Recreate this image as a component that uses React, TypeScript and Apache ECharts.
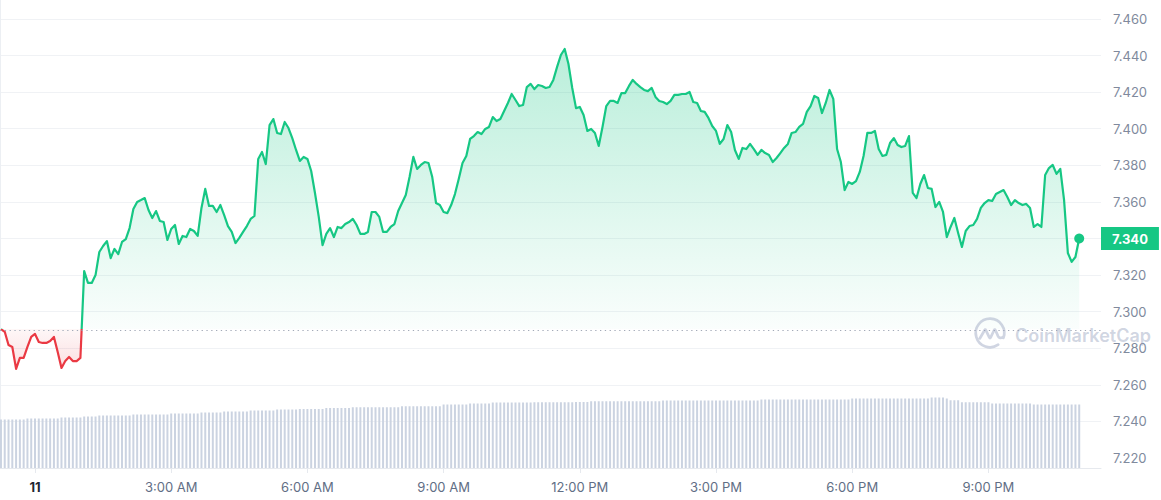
import React, { useEffect, useRef } from 'react';
import * as echarts from 'echarts';

// ---- data ----
const startMinute = -45; // 23:15 of the previous day, minutes from midnight
const stepMinutes = 5;
const openPrice = 7.2905;

const priceValues = [
  7.2905, 7.2890, 7.2818, 7.2807, 7.2687, 7.2747, 7.2747, 7.2807, 7.2862, 7.2878,
  7.2834, 7.2829, 7.2829, 7.2840, 7.2862, 7.2780, 7.2692, 7.2730, 7.2752, 7.2730,
  7.2730, 7.2747, 7.3222, 7.3157, 7.3157, 7.3200, 7.3326, 7.3359, 7.3386, 7.3293,
  7.3343, 7.3315, 7.3381, 7.3397, 7.3457, 7.3561, 7.3600, 7.3610, 7.3621, 7.3556,
  7.3512, 7.3550, 7.3496, 7.3490, 7.3392, 7.3452, 7.3474, 7.3370, 7.3414, 7.3408,
  7.3452, 7.3441, 7.3414, 7.3567, 7.3671, 7.3578, 7.3578, 7.3545, 7.3583, 7.3528,
  7.3468, 7.3436, 7.3375, 7.3403, 7.3436, 7.3468, 7.3507, 7.3523, 7.3835, 7.3873,
  7.3807, 7.4020, 7.4053, 7.3977, 7.3971, 7.4037, 7.4004, 7.3949, 7.3884, 7.3824,
  7.3846, 7.3835, 7.3769, 7.3649, 7.3518, 7.3364, 7.3425, 7.3457, 7.3408, 7.3463,
  7.3457, 7.3479, 7.3490, 7.3507, 7.3474, 7.3425, 7.3425, 7.3436, 7.3545, 7.3545,
  7.3518, 7.3436, 7.3436, 7.3463, 7.3479, 7.3550, 7.3594, 7.3638, 7.3736, 7.3846,
  7.3780, 7.3802, 7.3818, 7.3813, 7.3736, 7.3594, 7.3583, 7.3545, 7.3539, 7.3583,
  7.3643, 7.3725, 7.3813, 7.3851, 7.3944, 7.3960, 7.3982, 7.3971, 7.3999, 7.4010,
  7.4064, 7.4042, 7.4053, 7.4097, 7.4141, 7.4190, 7.4157, 7.4124, 7.4130, 7.4228,
  7.4245, 7.4217, 7.4239, 7.4234, 7.4223, 7.4228, 7.4267, 7.4338, 7.4403, 7.4436,
  7.4354, 7.4223, 7.4113, 7.4119, 7.4075, 7.3988, 7.3999, 7.3977, 7.3906, 7.4010,
  7.4124, 7.4152, 7.4152, 7.4141, 7.4195, 7.4195, 7.4234, 7.4267, 7.4245, 7.4228,
  7.4212, 7.4206, 7.4223, 7.4174, 7.4152, 7.4146, 7.4135, 7.4152, 7.4185, 7.4185,
  7.4190, 7.4190, 7.4201, 7.4146, 7.4141, 7.4097, 7.4092, 7.4059, 7.4015, 7.3988,
  7.3917, 7.3944, 7.4020, 7.3982, 7.3884, 7.3835, 7.3895, 7.3889, 7.3917, 7.3889,
  7.3857, 7.3884, 7.3867, 7.3857, 7.3818, 7.3840, 7.3867, 7.3895, 7.3917, 7.3977,
  7.3982, 7.4010, 7.4026, 7.4092, 7.4124, 7.4179, 7.4168, 7.4086, 7.4141, 7.4212,
  7.4163, 7.3889, 7.3818, 7.3665, 7.3709, 7.3698, 7.3714, 7.3764, 7.3851, 7.3977,
  7.3977, 7.3988, 7.3889, 7.3851, 7.3857, 7.3922, 7.3949, 7.3911, 7.3900, 7.3906,
  7.3960, 7.3649, 7.3621, 7.3698, 7.3747, 7.3676, 7.3671, 7.3572, 7.3600, 7.3545,
  7.3408, 7.3463, 7.3512, 7.3430, 7.3354, 7.3441, 7.3468, 7.3474, 7.3507, 7.3567,
  7.3594, 7.3610, 7.3605, 7.3643, 7.3654, 7.3665, 7.3627, 7.3583, 7.3610, 7.3594,
  7.3583, 7.3589, 7.3567, 7.3463, 7.3479, 7.3463, 7.3747, 7.3785, 7.3802, 7.3753,
  7.3780, 7.3610, 7.3321, 7.3272, 7.3299, 7.3400,
];

// volume (M), one bar per price point
const volumeValues = [
  194, 194, 194, 194, 194, 194, 194, 198, 198, 198,
  198, 198, 198, 198, 198, 198, 202, 202, 202, 202,
  202, 202, 206, 206, 206, 206, 210, 210, 210, 210,
  210, 210, 210, 210, 210, 214, 214, 214, 214, 214,
  214, 214, 214, 214, 214, 218, 218, 218, 218, 218,
  218, 218, 218, 222, 222, 222, 222, 222, 222, 226,
  226, 226, 226, 226, 226, 226, 230, 230, 230, 230,
  230, 230, 230, 234, 234, 234, 234, 234, 234, 236,
  236, 236, 236, 236, 236, 236, 240, 240, 240, 240,
  240, 240, 240, 243, 243, 243, 243, 243, 243, 243,
  243, 243, 243, 243, 243, 243, 247, 247, 247, 247,
  247, 247, 247, 247, 247, 247, 247, 254, 254, 254,
  254, 254, 254, 254, 258, 258, 258, 258, 258, 258,
  262, 262, 262, 262, 262, 262, 262, 262, 262, 262,
  262, 263, 263, 263, 263, 263, 263, 263, 263, 263,
  263, 263, 264, 264, 264, 264, 267, 267, 267, 267,
  267, 267, 267, 267, 267, 267, 267, 267, 267, 267,
  267, 267, 267, 267, 267, 270, 270, 270, 270, 270,
  270, 270, 270, 270, 270, 270, 270, 270, 270, 270,
  270, 270, 270, 270, 270, 270, 270, 270, 270, 270,
  270, 274, 274, 274, 274, 274, 274, 274, 274, 274,
  274, 274, 274, 274, 274, 274, 274, 274, 274, 274,
  274, 274, 274, 274, 274, 278, 278, 278, 278, 278,
  278, 278, 278, 278, 278, 278, 278, 278, 278, 278,
  278, 278, 278, 278, 278, 278, 282, 282, 282, 282,
  278, 271, 271, 271, 263, 263, 263, 263, 263, 263,
  263, 263, 258, 258, 258, 258, 258, 258, 258, 258,
  258, 258, 258, 254, 254, 254, 254, 254, 254, 254,
  254, 254, 254, 254, 254, 254,
];

const xTickMinutes = [0, 180, 360, 540, 720, 900, 1080, 1260];
const xTickLabels = ['11', '3:00 AM', '6:00 AM', '9:00 AM', '12:00 PM', '3:00 PM', '6:00 PM', '9:00 PM'];

// ---- styling / layout ----
const GREEN = '#16c784';
const RED = '#ea3943';
const X_MIN = -46.26;
const X_MAX = 1408.8;
const FONT = 'Inter, "Noto Sans", sans-serif';

const LOGO_PATH =
  'M74.1,84.4 A42,42 0 1 1 89.5,64.4 M20,66 L34,42 Q36,38 38,42 L48,63 Q50,67 52,63 L62,42 Q64,38 66,42 L74,60 Q78,68 88,62';

echarts.graphic.registerShape('cmcLogo', echarts.graphic.extendPath(LOGO_PATH, {}));

export default function App() {
  const ref = useRef<HTMLDivElement>(null);

  useEffect(() => {
    if (!ref.current) return;
    const chart = echarts.init(ref.current, undefined, { renderer: 'svg' });

    const pricePoints = priceValues.map((v, i) => [startMinute + i * stepMinutes, v]);
    const volumePoints = volumeValues.map((v, i) => [startMinute + i * stepMinutes, v]);
    const lastIdx = priceValues.length - 1;
    const last = priceValues[lastIdx];
    const maxV = Math.max(...priceValues);
    const minV = Math.min(...priceValues);
    const frac = (maxV - openPrice) / (maxV - minV);

    const option: any = {
      animation: false,
      textStyle: { fontFamily: FONT },
      grid: [
        { left: 0, right: 60, top: 19, bottom: 42 },
        { left: 0, right: 60, top: 380, bottom: 32 },
        { left: 0, right: 60, top: 0, bottom: 32 },
      ],
      xAxis: [
        { gridIndex: 0, type: 'value', min: X_MIN, max: X_MAX, show: false },
        {
          gridIndex: 1,
          type: 'value',
          min: X_MIN,
          max: X_MAX,
          axisLine: { show: true, lineStyle: { color: '#e6e9ee', width: 1 } },
          axisTick: { show: true, customValues: xTickMinutes, length: 5, lineStyle: { color: '#e6e9ee' } },
          splitLine: { show: false },
          axisLabel: {
            customValues: xTickMinutes,
            margin: 12,
            fontSize: 13,
            color: '#616e85',
            fontFamily: FONT,
            formatter: (v: number) => {
              const i = xTickMinutes.indexOf(Math.round(v));
              if (i < 0) return '';
              return i === 0 ? '{d|' + xTickLabels[i] + '}' : xTickLabels[i];
            },
            rich: { d: { fontWeight: 'bold', color: '#222531', fontSize: 13, fontFamily: FONT } },
          },
        },
        { gridIndex: 2, type: 'value', min: 0, max: 1, show: false },
      ],
      yAxis: [
        {
          gridIndex: 0,
          type: 'value',
          position: 'right',
          min: 7.22,
          max: 7.46,
          interval: 0.02,
          axisLine: { show: false },
          axisTick: { show: false },
          splitLine: { show: true, showMinLine: false, lineStyle: { color: '#f0f2f5', width: 1 } },
          axisLabel: {
            margin: 12,
            fontSize: 13,
            color: '#808a9d',
            fontFamily: FONT,
            formatter: (v: number) => v.toFixed(3),
          },
        },
        {
          gridIndex: 1,
          type: 'value',
          min: 0,
          max: 352,
          show: false,
        },
        {
          gridIndex: 2,
          type: 'value',
          position: 'right',
          min: 0,
          max: 1,
          axisLine: { show: true, lineStyle: { color: '#eceff3', width: 1 } },
          axisTick: { show: false },
          axisLabel: { show: false },
          splitLine: { show: false },
        },
      ],
      visualMap: {
        type: 'piecewise',
        show: false,
        seriesIndex: 0,
        dimension: 1,
        pieces: [
          { gt: openPrice, lte: 100, color: GREEN },
          { gte: 0, lte: openPrice, color: RED },
        ],
      },
      series: [
        {
          type: 'line',
          xAxisIndex: 0,
          yAxisIndex: 0,
          data: pricePoints,
          showSymbol: false,
          symbol: 'none',
          silent: true,
          lineStyle: { width: 2.2, join: 'round' },
          areaStyle: {
            origin: openPrice,
            opacity: 1,
            color: new echarts.graphic.LinearGradient(0, 0, 0, 1, [
              { offset: 0, color: 'rgba(22,199,132,0.30)' },
              { offset: frac, color: 'rgba(22,199,132,0.02)' },
              { offset: frac, color: 'rgba(234,57,67,0.04)' },
              { offset: 1, color: 'rgba(234,57,67,0.16)' },
            ]),
          },
          z: 3,
        },
        {
          type: 'scatter',
          xAxisIndex: 0,
          yAxisIndex: 0,
          data: [pricePoints[lastIdx]],
          symbolSize: 10,
          silent: true,
          itemStyle: { color: GREEN, opacity: 1 },
          z: 5,
          markLine: {
            silent: true,
            symbol: ['none', 'none'],
            animation: false,
            data: [
              {
                yAxis: openPrice,
                lineStyle: { color: '#a3aab8', type: [1.3, 3.5], width: 1.2 },
                label: { show: false },
              },
              {
                yAxis: last,
                lineStyle: { color: 'rgba(0,0,0,0)', width: 1, type: 'solid' },
                label: {
                  show: true,
                  position: 'end',
                  distance: 0,
                  formatter: last.toFixed(3),
                  color: '#ffffff',
                  opacity: 1,
                  backgroundColor: GREEN,
                  fontWeight: 'bold',
                  fontSize: 13,
                  fontFamily: FONT,
                  padding: [5, 11, 5, 11],
                },
              },
            ],
          },
        },
        {
          type: 'bar',
          xAxisIndex: 1,
          yAxisIndex: 1,
          data: volumePoints,
          barWidth: 2,
          silent: true,
          itemStyle: { color: '#cbd3e1' },
        },
      ],
      graphic: [
        {
          type: 'cmcLogo',
          x: 973,
          y: 316,
          scaleX: 0.34,
          scaleY: 0.34,
          z: 100,
          silent: true,
          style: {
            fill: 'none',
            stroke: 'rgba(150,162,190,0.45)',
            lineWidth: 8,
            lineCap: 'round',
            lineJoin: 'round',
          },
        },
        {
          type: 'text',
          x: 1015,
          y: 335,
          z: 100,
          silent: true,
          style: {
            text: 'CoinMarketCap',
            fontSize: 18,
            fontWeight: 600,
            fontFamily: FONT,
            fill: 'rgba(150,162,190,0.45)',
            textVerticalAlign: 'middle',
            verticalAlign: 'middle',
          },
        },
      ],
    };

    chart.setOption(option);
    return () => chart.dispose();
  }, []);

  return (
    <div
      ref={ref}
      style={{ position: 'fixed', left: 0, top: 0, width: 1161, height: 500, background: '#ffffff' }}
    />
  );
}
